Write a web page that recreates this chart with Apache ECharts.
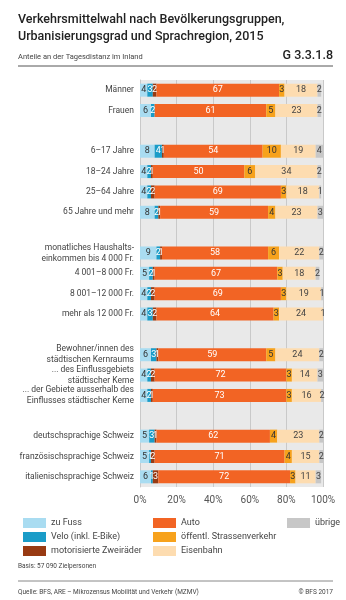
<!DOCTYPE html>
<html><head><meta charset="utf-8">
<script src="https://cdn.jsdelivr.net/npm/echarts@6/dist/echarts.min.js"></script>
<style>html,body{margin:0;padding:0;background:#fff}#c{width:346px;height:600px}</style>
</head><body><div id="c"></div>
<script>
const categories = ['Männer','Frauen',' ','6–17 Jahre','18–24 Jahre','25–64 Jahre','65 Jahre und mehr','  ',
 'monatliches Haushalts-\neinkommen bis 4 000 Fr.','4 001–8 000 Fr.','8 001–12 000 Fr.','mehr als 12 000 Fr.','   ',
 'Bewohner/innen des\nstädtischen Kernraums','... des Einflussgebiets\nstädtischer Kerne','... der Gebiete ausserhalb des\nEinflusses städtischer Kerne','    ',
 'deutschsprachige Schweiz','französischsprachige Schweiz','italienischsprachige Schweiz'];
const seriesNames = ['zu Fuss','Velo (inkl. E-Bike)','motorisierte Zweiräder','Auto','öffentl. Strassenverkehr','Eisenbahn','übrige'];
const zuFuss   = [4,6,null,8,4,4,8,null,9,5,4,4,null,6,4,4,null,5,5,6];
const velo     = [3,2,null,4,2,2,2,null,2,2,2,3,null,3,2,2,null,3,1,1];
const motor    = [2,0,null,1,1,2,1,null,1,1,2,2,null,1,2,1,null,1,2,3];
const auto     = [67,61,null,54,50,69,59,null,58,67,69,64,null,59,72,73,null,62,71,72];
const oev      = [3,5,null,10,6,3,4,null,6,3,3,3,null,5,3,3,null,4,4,3];
const bahn     = [18,23,null,19,34,18,23,null,22,18,19,24,null,24,14,16,null,23,15,11];
const uebrige  = [2,2,null,4,2,1,3,null,2,2,1,1,null,2,3,2,null,2,2,3];
const xTicks = [0,20,40,60,80,100];

const colors = ['#a9dcf1','#1a9cc8','#983a12','#f26424','#f7a21c','#fddcb0','#c7c7c7'];
const labelColors = ['#333','#fff','#fff','#fff','#333','#444','#444'];
const values = [zuFuss,velo,motor,auto,oev,bahn,uebrige];

const chart = echarts.init(document.getElementById('c'));
const series = seriesNames.map((n,i)=>({
  name:n, type:'bar', stack:'s', barWidth:13, data:values[i],
  itemStyle:{color:colors[i]},
  label:{show:true, position:'inside', fontSize:9, fontFamily:'Roboto', color:labelColors[i],
    formatter:p=> (p.value? String(p.value):'')}
}));
const legendCommon = {orient:'vertical', itemWidth:23, itemHeight:10, itemGap:4, icon:'rect',
  textStyle:{fontSize:9, color:'#444', fontFamily:'Roboto'}, selectedMode:false};
chart.setOption({
  animation:false,
  textStyle:{fontFamily:'Roboto'},
  grid:{left:140, right:23, top:80, bottom:113, show:true, backgroundColor:'#e9e9e9', borderWidth:0},
  xAxis:{type:'value', min:0, max:100, interval:20,
    axisLabel:{formatter:'{value}%', fontSize:10, color:'#555', margin:8},
    splitLine:{show:true, lineStyle:{color:'#c9c9c9', width:1}},
    axisLine:{show:false}, axisTick:{show:false}},
  yAxis:{type:'category', inverse:true, data:categories,
    axisLabel:{fontSize:8.5, color:'#444', lineHeight:11, margin:6},
    axisLine:{show:true, lineStyle:{color:'#c9c9c9'}}, axisTick:{show:false}},
  legend:[
    Object.assign({left:18, top:513, data:seriesNames.slice(0,3)}, legendCommon),
    Object.assign({left:148, top:513, data:seriesNames.slice(3,6)}, legendCommon),
    Object.assign({left:282, top:513, data:seriesNames.slice(6)}, legendCommon)
  ],
  graphic:[
    {type:'text', left:18, top:11, style:{text:'Verkehrsmittelwahl nach Bevölkerungsgruppen,\nUrbanisierungsgrad und Sprachregion, 2015', fontSize:12.5, fontWeight:500, lineHeight:17, fill:'#222', fontFamily:'Roboto'}},
    {type:'text', left:18, top:53, style:{text:'Anteile an der Tagesdistanz im Inland', fontSize:7.5, fill:'#444', fontFamily:'Roboto'}},
    {type:'text', right:13, top:49, style:{text:'G 3.3.1.8', fontSize:12.5, fontWeight:500, fill:'#222', fontFamily:'Roboto'}},
    {type:'line', shape:{x1:18, y1:66, x2:333, y2:66}, style:{stroke:'#555', lineWidth:1}},
    {type:'text', left:18, top:563, style:{text:'Basis: 57 090 Zielpersonen', fontSize:6.5, fill:'#444', fontFamily:'Roboto'}},
    {type:'line', shape:{x1:18, y1:581, x2:333, y2:581}, style:{stroke:'#888', lineWidth:1}},
    {type:'text', left:18, top:589, style:{text:'Quelle: BFS, ARE – Mikrozensus Mobilität und Verkehr (MZMV)', fontSize:6.5, fill:'#444', fontFamily:'Roboto'}},
    {type:'text', right:13, top:589, style:{text:'© BFS 2017', fontSize:6.5, fill:'#444', fontFamily:'Roboto'}}
  ],
  series:series
});
</script></body></html>
